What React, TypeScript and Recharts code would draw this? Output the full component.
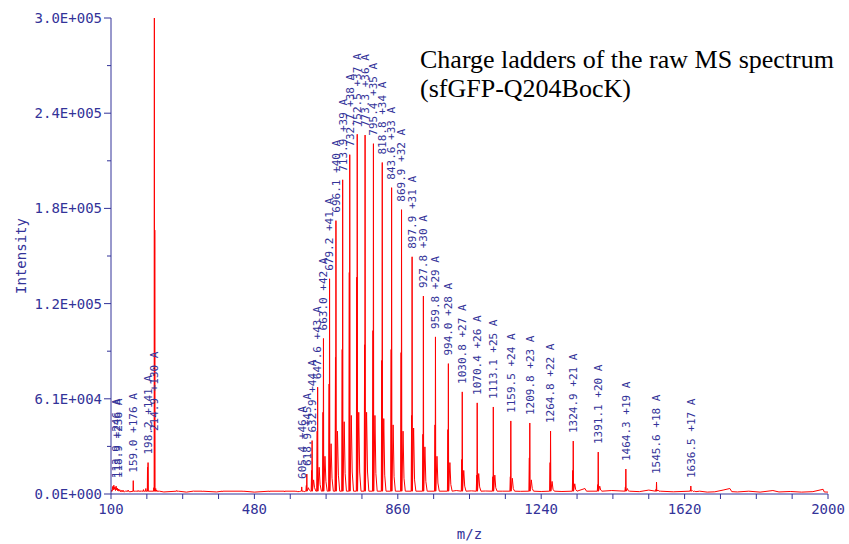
import { ComposedChart, Label, Line, Scatter, XAxis, YAxis } from 'recharts';

const AXIS_COLOR = '#333399';
const TRACE_COLOR = '#ff0000';
const MONO = '"DejaVu Sans Mono", monospace';

// charge ladder of the protein (labelled m/z, charge state)
const LADDER_MZ = [
  605.4, 618.9, 632.9, 647.6, 663.0, 679.2, 696.1, 713.9, 732.7, 752.5,
  773.3, 795.4, 818.8, 843.6, 869.9, 897.9, 927.8, 959.8, 994.0, 1030.8,
  1070.4, 1113.1, 1159.5, 1209.8, 1264.8, 1324.9, 1391.1, 1464.3, 1545.6, 1636.5,
];
const LADDER_Z = [
  46, 45, 44, 43, 42, 41, 40, 39, 38, 37,
  36, 35, 34, 33, 32, 31, 30, 29, 28, 27,
  26, 25, 24, 23, 22, 21, 20, 19, 18, 17,
];
// intensities: main peak, shoulder just left of it, adduct and tail to the right
const LADDER_MAIN = [
  4500, 12700, 34000, 68000, 99000, 137000, 174000, 200000, 216000, 229000,
  228500, 223000, 211000, 195000, 181000, 151000, 126000, 100000, 83000, 65000,
  58000, 55400, 46500, 45200, 40100, 33700, 26700, 15900, 7600, 5100,
];
const LADDER_SHOULDER = [
  2000, 5500, 15000, 40000, 52000, 70000, 87000, 92000, 141000, 138000,
  95000, 104000, 85000, 92000, 90000, 50000, 38000, 44000, 41000, 22000,
  12000, 11000, 11000, 23000, 20000, 15000, 6000, 4500, 3000, 2500,
];
const LADDER_ADDUCT = [
  1800, 4000, 9000, 17000, 24000, 32000, 40000, 46000, 50000, 52000,
  52000, 50000, 48000, 44000, 40000, 42000, 30000, 24000, 20000, 15000,
  13000, 12000, 10000, 9000, 8000, 6500, 5000, 3500, 2500, 2200,
];
const LADDER_TAIL = [
  1500, 2500, 4000, 6000, 8000, 10000, 12000, 13000, 14000, 14000,
  14000, 13000, 12000, 11000, 10000, 9000, 8000, 7000, 6000, 5000,
  4500, 4000, 3500, 3500, 3000, 2800, 2500, 2000, 1800, 1600,
];

// low m/z sticks
const LOW_MZ = [
  131.8, 138.0, 145.5, 159.0, 166.0, 172.0, 180.0, 186.0, 192.3, 196.8,
  198.2, 213.5, 214.9, 216.0, 218.5, 221.0, 228.0, 274.0, 278.0, 318.0,
  342.0, 395.0, 450.0, 520.0, 560.0, 590.0,
];
const LOW_INT = [
  2500, 2000, 2500, 8500, 1800, 2200, 2000, 2800, 3500, 17000,
  20000, 4000, 303000, 168000, 3500, 2500, 1800, 2200, 1700, 1900,
  1500, 1400, 1500, 1400, 1300, 1500,
];
const LOW_LABEL_MZ = [113.9, 118.9, 159.0, 198.2, 214.9];
const LOW_LABEL_Z = [246, 236, 176, 141, 130];
const LOW_LABEL_AT = [5000, 5000, 8500, 20000, 35000];

// baseline noise
const NOISE_MZ = [
  100, 101.5, 103, 104.5, 106, 107.5, 109, 110.5, 112, 113.5,
  115, 116.5, 118, 119.5, 121, 123, 125, 127, 129, 135,
  150, 240, 300, 380, 480, 595, 600,
  1015, 1055, 1092, 1138, 1185, 1240, 1295, 1356, 1360, 1427,
  1500, 1525, 1590, 1650, 1660, 1680, 1700, 1722, 1740, 1745,
  1760, 1790, 1820, 1854, 1870, 1900, 1930, 1960, 1987, 1990, 2000,
];
const NOISE_INT = [
  1200, 2500, 1800, 4800, 2600, 5600, 3000, 4400, 2200, 5000,
  2600, 3800, 2000, 3200, 1800, 2800, 1500, 2400, 1300, 1200,
  1400, 1300, 1200, 1300, 1200, 1500, 1600,
  2200, 2000, 1900, 1800, 1700, 1600, 1600, 3500, 1800, 2200,
  1500, 2500, 1400, 1500, 1800, 1200, 1400, 2500, 3500, 1500,
  1300, 1800, 1200, 2200, 1300, 1600, 1200, 1500, 3000, 1300, 1200,
];

const Y_TICKS = [0, 30300, 60600, 90900, 121200, 151500, 181800, 212100, 242400, 272700, 303000];
const Y_MAJOR = [0, 60600, 121200, 181800, 242400, 303000];
const X_TICKS = [
  100, 195, 290, 385, 480, 575, 670, 765, 860, 955, 1050,
  1145, 1240, 1335, 1430, 1525, 1620, 1715, 1810, 1905, 2000,
];
const X_MAJOR = [100, 480, 860, 1240, 1620, 2000];

const BASE = 1800;

interface Pt {
  mz: number;
  int: number;
}

interface LabelPt extends Pt {
  text: string;
}

const buildSpectrum = (): Pt[] => {
  const pts: Pt[] = [];
  NOISE_MZ.forEach((mz, i) => pts.push({ mz, int: NOISE_INT[i] }));
  LOW_MZ.forEach((mz, i) => {
    pts.push({ mz: mz - 0.6, int: BASE }, { mz, int: LOW_INT[i] }, { mz: mz + 0.6, int: BASE });
  });
  LADDER_MZ.forEach((mz, i) => {
    pts.push(
      { mz: mz - 2.5, int: BASE },
      { mz: mz - 1.2, int: LADDER_SHOULDER[i] },
      { mz: mz - 0.7, int: BASE },
      { mz, int: LADDER_MAIN[i] },
      { mz: mz + 0.8, int: BASE },
      { mz: mz + 4, int: LADDER_ADDUCT[i] },
      { mz: mz + 6.5, int: LADDER_TAIL[i] },
      { mz: mz + 10, int: BASE }
    );
  });
  return pts.sort((a, b) => a.mz - b.mz);
};

const buildLabels = (): LabelPt[] => {
  const low = LOW_LABEL_MZ.map((mz, i) => ({
    mz,
    int: LOW_LABEL_AT[i],
    text: `${mz.toFixed(1)} +${LOW_LABEL_Z[i]} A`,
  }));
  const ladder = LADDER_MZ.map((mz, i) => ({
    mz,
    int: LADDER_MAIN[i],
    text: `${mz.toFixed(1)} +${LADDER_Z[i]} A`,
  }));
  return [...low, ...ladder];
};

const sci = (v: number): string => {
  if (v === 0) return '0.0E+000';
  const e = Math.floor(Math.log10(v));
  const m = v / Math.pow(10, e);
  return `${m.toFixed(1)}E+${String(e).padStart(3, '0')}`;
};

const YTick = (props: any) => {
  const { x, y, payload } = props;
  const major = Y_MAJOR.includes(payload.value);
  return (
    <g>
      <line x1={x - (major ? 7 : 4)} x2={x} y1={y} y2={y} stroke={AXIS_COLOR} />
      {major && (
        <text x={x - 9} y={y} dy='0.35em' textAnchor='end' fill={AXIS_COLOR} fontFamily={MONO} fontSize={14}>
          {sci(payload.value)}
        </text>
      )}
    </g>
  );
};

const XTick = (props: any) => {
  const { x, y, payload } = props;
  const major = X_MAJOR.includes(payload.value);
  return (
    <g>
      <line x1={x} x2={x} y1={y} y2={y + 5} stroke={AXIS_COLOR} />
      {major && (
        <text x={x} y={y + 20} textAnchor='middle' fill={AXIS_COLOR} fontFamily={MONO} fontSize={14}>
          {payload.value}
        </text>
      )}
    </g>
  );
};

const PeakLabel = (props: any) => {
  const { cx, cy, payload } = props;
  return (
    <text
      x={cx + 8}
      y={cy}
      dy='0.35em'
      transform={`rotate(-90 ${cx} ${cy})`}
      fill={AXIS_COLOR}
      fontFamily={MONO}
      fontSize={11}
    >
      {payload.text}
    </text>
  );
};

const App = (): JSX.Element => {
  const spectrum = buildSpectrum();
  const labels = buildLabels();

  return (
    <div style={{ position: 'absolute', left: 0, top: 0, width: 849, height: 544, background: '#fff' }}>
      <ComposedChart width={849} height={544} margin={{ top: 18, right: 21, bottom: 0, left: 0 }}>
        <XAxis
          dataKey='mz'
          type='number'
          domain={[100, 2000]}
          allowDataOverflow
          ticks={X_TICKS}
          interval={0}
          tick={<XTick />}
          tickLine={false}
          tickSize={0}
          tickMargin={0}
          height={50}
          stroke={AXIS_COLOR}
        >
          <Label
            content={({ viewBox }: any) => (
              <text
                x={viewBox.x + viewBox.width / 2}
                y={viewBox.y + 45}
                textAnchor='middle'
                fill={AXIS_COLOR}
                fontFamily={MONO}
                fontSize={14}
              >
                m/z
              </text>
            )}
          />
        </XAxis>
        <YAxis
          dataKey='int'
          type='number'
          domain={[0, 303000]}
          allowDataOverflow
          ticks={Y_TICKS}
          interval={0}
          tick={<YTick />}
          tickLine={false}
          tickSize={0}
          tickMargin={0}
          width={111}
          stroke={AXIS_COLOR}
        >
          <Label
            content={({ viewBox }: any) => {
              const cx = viewBox.x + 26;
              const cy = viewBox.y + viewBox.height / 2;
              return (
                <text
                  x={cx}
                  y={cy}
                  transform={`rotate(-90 ${cx} ${cy})`}
                  textAnchor='middle'
                  fill={AXIS_COLOR}
                  fontFamily={MONO}
                  fontSize={14}
                >
                  Intensity
                </text>
              );
            }}
          />
        </YAxis>
        <Line
          data={spectrum}
          dataKey='int'
          type='linear'
          stroke={TRACE_COLOR}
          strokeWidth={1}
          dot={false}
          activeDot={false}
          isAnimationActive={false}
        />
        <Scatter data={labels} dataKey='int' shape={PeakLabel} isAnimationActive={false} />
      </ComposedChart>
      <div
        style={{
          position: 'absolute',
          left: 420,
          top: 45,
          fontFamily: '"Liberation Serif", "Times New Roman", serif',
          fontSize: 26,
          lineHeight: '29px',
          color: '#000',
          whiteSpace: 'nowrap',
        }}
      >
        Charge ladders of the raw MS spectrum
        <br />
        (sfGFP-Q204BocK)
      </div>
    </div>
  );
};

export default App;
